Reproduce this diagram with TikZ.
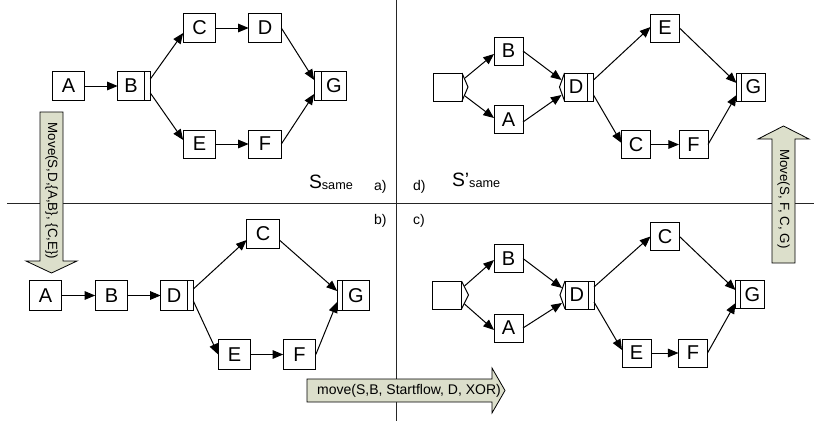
\documentclass[tikz,border=0pt]{standalone}
\usepackage{fontspec}
\setmainfont{Liberation Sans}
\usetikzlibrary{arrows.meta,calc}
\definecolor{movefill}{RGB}{220,223,203}

\begin{document}
\begin{tikzpicture}[x=0.75pt,y=-0.75pt,
  every node/.style={inner sep=0pt, outer sep=0pt},
  task/.style={draw, line width=0.75pt, minimum width=24.5pt, minimum height=22pt,
    font=\fontsize{15}{16}\selectfont},
  ctask/.style={task, minimum width=21.75pt, minimum height=21pt},
  barR/.style={path picture={\draw[line width=0.75pt]
    ([xshift=-#1]path picture bounding box.north east) --
    ([xshift=-#1]path picture bounding box.south east);}},
  barL/.style={path picture={\draw[line width=0.75pt]
    ([xshift=#1]path picture bounding box.north west) --
    ([xshift=#1]path picture bounding box.south west);}},
  flow/.style={line width=0.75pt, -{Triangle[length=8pt,width=6.5pt]}},
  movearrow/.style={draw=black, line width=0.6pt, fill=movefill},
  movetext/.style={font=\fontsize{10}{11}\selectfont},
  tag/.style={anchor=base west, font=\fontsize{10.5}{11}\selectfont},
  divider/.style={line width=0.75pt, draw=black!85}
]
\useasboundingbox (0,0) rectangle (814,421);

% quadrant dividers
\coordinate (hl) at (7,203);
\coordinate (hr) at (814,203);
\coordinate (vt) at (396,0);
\coordinate (vb) at (396,421);
\draw[divider] (hl) -- (hr);
\draw[divider] (vt) -- (vb);

% ---------- a) original process ----------
\node[task] (aA) at (68.5,86) {A};
\node[task, barR=4.5pt] (aB) at (134,86) {B\kern4.5pt};
\node[task] (aC) at (199.5,28) {C};
\node[task] (aD) at (265,28) {D};
\node[task, minimum height=21pt] (aE) at (199.5,144) {E};
\node[task, minimum height=21pt] (aF) at (265,144) {F};
\node[task, barL=5.25pt] (aG) at (330.5,86) {\kern5.25pt G};

\draw[flow] (aA.east) -- (aB.west);
\draw[flow] ($(aB.east)+(0,-7)$) -- ($(aC.west)+(0,5)$);
\draw[flow] ($(aB.east)+(0,7)$) -- ($(aE.west)+(0,-4)$);
\draw[flow] (aC.east) -- (aD.west);
\draw[flow] (aE.east) -- (aF.west);
\draw[flow] (aD.east) -- ($(aG.west)+(0,-6)$);
\draw[flow] (aF.east) -- ($(aG.west)+(0,8)$);

% ---------- d) ----------
\node[ctask] (dS) at (447.5,87) {};
\draw[line width=0.75pt] (dS.north east) -- ($(dS.east)+(6,0)$) -- (dS.south east);
\node[ctask] (dB) at (508.5,51) {B};
\node[ctask] (dA) at (508.5,119.5) {A};
\node[ctask, barR=4.5pt] (dD) at (579,87) {D\kern4.5pt};
\draw[line width=0.75pt] (dD.north west) -- ($(dD.west)+(-5,0)$) -- (dD.south west);
\node[ctask] (dE) at (665,28) {E};
\node[ctask] (dC) at (636,144.5) {C};
\node[ctask] (dF) at (693.5,144.5) {F};
\node[ctask, barL=3.75pt] (dG) at (751,87) {\kern3.75pt G};

\draw[flow] ($(dS.east)+(3,-9)$) -- ($(dB.west)+(0,3)$);
\draw[flow] ($(dS.east)+(3,9)$) -- ($(dA.west)+(0,-1.5)$);
\draw[flow] (dB.east) -- ($(dD.west)+(-3,-7)$);
\draw[flow] ($(dA.east)+(0,2.5)$) -- ($(dD.west)+(-3,8)$);
\draw[flow] ($(dD.east)+(0,-7)$) -- ($(dE.west)+(0,-1)$);
\draw[flow] ($(dD.east)+(0,8)$) -- ($(dC.west)+(0,-1.5)$);
\draw[flow] (dE.east) -- ($(dG.west)+(0,-4)$);
\draw[flow] (dC.east) -- (dF.west);
\draw[flow] (dF.east) -- ($(dG.west)+(0,8)$);

% ---------- b) ----------
\node[task] (bA) at (45.5,295.5) {A};
\node[task] (bB) at (111.5,295.5) {B};
\node[task, barR=4.5pt] (bD) at (177,295.5) {D\kern4.5pt};
\node[task] (bC) at (263,234) {C};
\node[task] (bE) at (234.5,354.5) {E};
\node[task] (bF) at (299.5,354.5) {F};
\node[task, barL=3.75pt] (bG) at (353.5,295.5) {\kern3.75pt G};

\draw[flow] (bA.east) -- (bB.west);
\draw[flow] (bB.east) -- (bD.west);
\draw[flow] ($(bD.east)+(0,-6.5)$) -- ($(bC.west)+(0,6)$);
\draw[flow] ($(bD.east)+(0,5.5)$) -- (bE.west);
\draw[flow] ($(bC.east)+(0,6)$) -- ($(bG.west)+(0,-4.5)$);
\draw[flow] (bE.east) -- (bF.west);
\draw[flow] (bF.east) -- ($(bG.west)+(0,6.5)$);

% ---------- c) ----------
\node[ctask] (cS) at (447,295) {};
\draw[line width=0.75pt] (cS.north east) -- ($(cS.east)+(7,0)$) -- (cS.south east);
\node[ctask] (cB) at (508.5,258.5) {B};
\node[ctask] (cA) at (508.5,328) {A};
\node[ctask, barR=4pt] (cD) at (579.5,295) {D\kern4pt};
\draw[line width=0.75pt] (cD.north west) -- ($(cD.west)+(-5,0)$) -- (cD.south west);
\node[ctask] (cC) at (665,236.5) {C};
\node[ctask, barL=3.75pt] (cG) at (750,294.5) {\kern3.75pt G};
\node[ctask] (cE) at (636.5,353) {E};
\node[ctask] (cF) at (693,353) {F};

\draw[flow] ($(cS.east)+(3,-9)$) -- ($(cB.west)+(0,1.5)$);
\draw[flow] ($(cS.east)+(3,9)$) -- ($(cA.west)+(0,2)$);
\draw[flow] (cB.east) -- ($(cD.west)+(-3,-7)$);
\draw[flow] (cA.east) -- ($(cD.west)+(-3,8)$);
\draw[flow] ($(cD.east)+(0,-8)$) -- (cC.west);
\draw[flow] ($(cD.east)+(0,7)$) -- ($(cE.west)+(0,-3)$);
\draw[flow] (cC.east) -- ($(cG.west)+(0,-4.5)$);
\draw[flow] (cE.east) -- (cF.west);
\draw[flow] (cF.east) -- ($(cG.west)+(0,8.5)$);

% ---------- labels ----------
\node[anchor=base west, font=\fontsize{14.5}{15}\selectfont] (lblS) at (309,188)
  {S\raisebox{-1pt}{\fontsize{9.5}{10}\selectfont same}};
\node[anchor=base west, font=\fontsize{14.5}{15}\selectfont] (lblSp) at (452,186)
  {S’\raisebox{-1pt}{\fontsize{9.5}{10}\selectfont same}};
\node[tag] (tagA) at (374,190) {a)};
\node[tag] (tagD) at (413,190) {d)};
\node[tag] (tagB) at (374,224) {b)};
\node[tag] (tagC) at (413,224) {c)};

% ---------- change operations ----------
\draw[movearrow] (40,112) -- (63,112) -- (63,261) -- (77,261) -- (51.5,273)
  -- (26,261) -- (40,261) -- cycle;
\node[movetext, rotate=-90] (mvLeft) at (51.5,191) {Move(S,D,\{A,B\}, \{C,E\})};

\draw[movearrow] (772,263) -- (795,263) -- (795,139) -- (809,139) -- (783.5,126)
  -- (758,139) -- (772,139) -- cycle;
\node[movetext, rotate=-90] (mvRight) at (783.5,199) {Move(S, F, C, G)};

\draw[movearrow] (307,379) -- (492,379) -- (492,368) -- (505,390.5) -- (492,413)
  -- (492,402) -- (307,402) -- cycle;
\node[movetext, font=\fontsize{10.5}{11}\selectfont] (mvBottom) at (409,390.5)
  {move(S,B, Startflow, D, XOR)};
\end{tikzpicture}
\end{document}
